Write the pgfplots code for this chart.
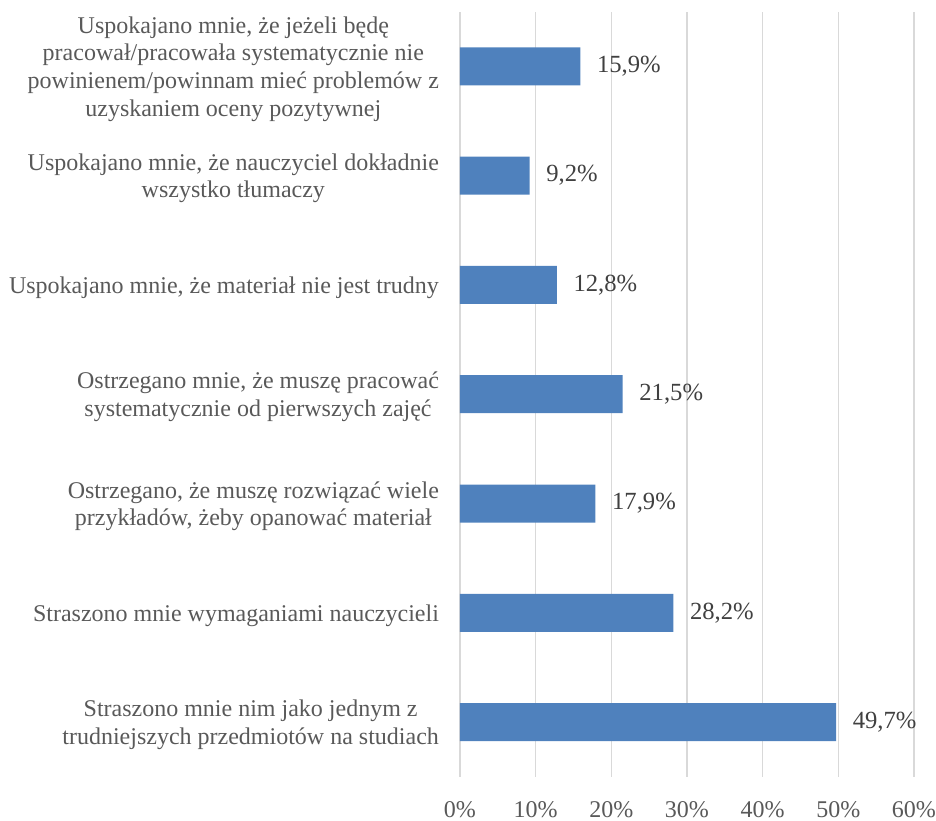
\documentclass[border=0pt]{standalone}
\usepackage{pgfplots}
\pgfplotsset{compat=1.18}
\usepackage{fontspec}
\setmainfont{Liberation Serif}
\definecolor{barblue}{HTML}{4F81BD}
\definecolor{gridgray}{HTML}{D9D9D9}
\definecolor{labgray}{HTML}{595959}
\definecolor{datgray}{HTML}{404040}
\begin{document}
\begin{tikzpicture}
\begin{axis}[
 name=ax,
 xbar,
 scale only axis,
 width=340.5pt, height=573.75pt,
 xmin=0, xmax=60, ymin=-0.5, ymax=6.5,
 bar width=28.5pt,
 axis line style={draw=none},
 xmajorgrids,
 grid style={gridgray, line width=0.9pt},
 xtick={0,10,...,60},
 xticklabel={\pgfmathprintnumber{\tick}\%},
 /pgf/number format/assume math mode=true,
 ytick={0,...,6},
 yticklabels={
  {Straszono mnie nim jako jednym z\\trudniejszych przedmiotów na studiach},
  {Straszono mnie wymaganiami nauczycieli},
  {Ostrzegano, że muszę rozwiązać wiele\\przykładów, żeby opanować materiał},
  {Ostrzegano mnie, że muszę pracować\\systematycznie od pierwszych zajęć},
  {Uspokajano mnie, że materiał nie jest trudny},
  {Uspokajano mnie, że nauczyciel dokładnie\\wszystko tłumaczy},
  {Uspokajano mnie, że jeżeli będę\\pracował/pracowała systematycznie nie\\powinienem/powinnam mieć problemów z\\uzyskaniem oceny pozytywnej}
 },
 tick style={draw=none},
 yticklabel style={align=center, text=labgray, font=\fontsize{18}{20.7}\selectfont, xshift=-8pt, yshift=-2pt},
 xticklabel style={text=labgray, font=\fontsize{18}{20.7}\selectfont, yshift=-15pt},
 nodes near coords={\pgfmathprintnumber[use comma, fixed, precision=1, fixed zerofill]{\pgfplotspointmeta}\%},
 nodes near coords style={text=datgray, font=\fontsize{18.5}{20.7}\selectfont, anchor=west, xshift=9pt, /pgf/number format/assume math mode=true},
 clip=false,
]
\addplot[fill=barblue, draw=none] coordinates {
 (49.7,0) (28.2,1) (17.9,2) (21.5,3) (12.8,4) (9.2,5) (15.9,6)
};
\end{axis}
\pgfresetboundingbox
\path[use as bounding box] (ax.south west) ++(-345pt,-33.19pt) rectangle ++(702pt,615.75pt);
\end{tikzpicture}
\end{document}
